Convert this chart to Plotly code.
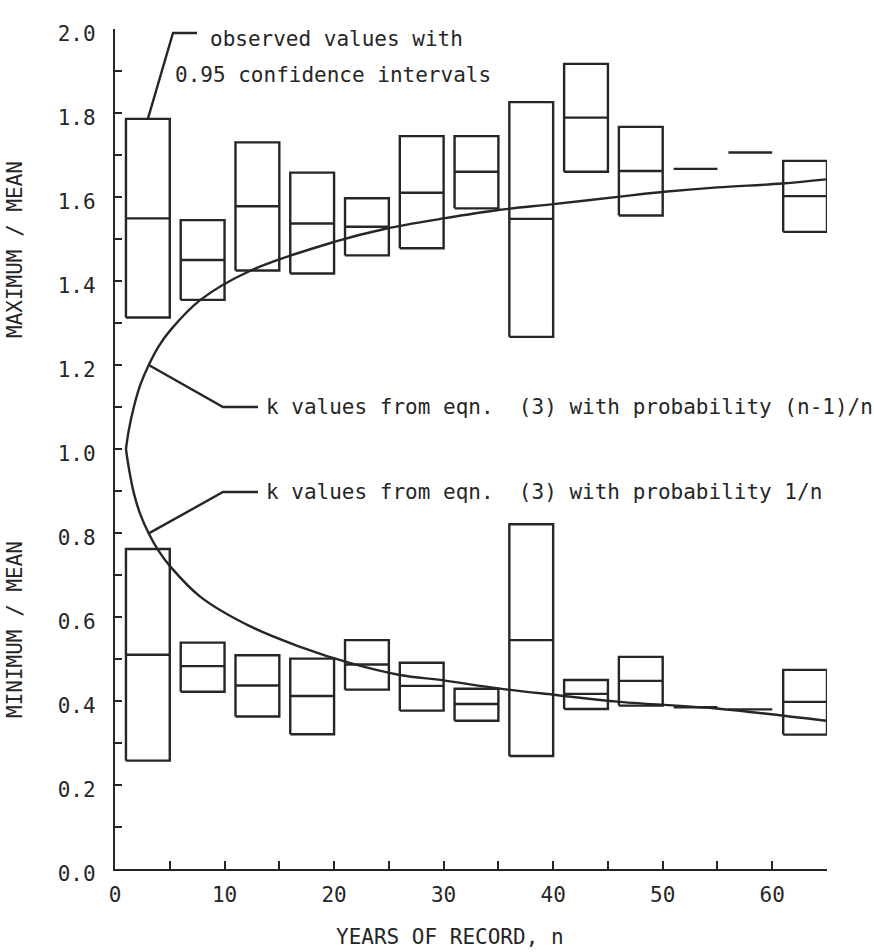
import plotly.graph_objects as go

# ---- data ----
years = [3, 8, 13, 18, 23, 28, 33, 38, 43, 48, 53, 58, 63]

max_hi  = [1.786, 1.545, 1.730, 1.658, 1.597, 1.745, 1.745, 1.826, 1.917, 1.767, None, None, 1.686]
max_med = [1.549, 1.450, 1.578, 1.537, 1.529, 1.610, 1.660, 1.548, 1.789, 1.662, 1.667, 1.706, 1.602]
max_lo  = [1.313, 1.355, 1.425, 1.418, 1.461, 1.478, 1.573, 1.267, 1.660, 1.556, None, None, 1.517]

min_hi  = [0.762, 0.539, 0.509, 0.501, 0.545, 0.491, 0.429, 0.821, 0.450, 0.505, None, None, 0.474]
min_med = [0.510, 0.483, 0.437, 0.412, 0.487, 0.436, 0.393, 0.545, 0.417, 0.448, 0.385, 0.380, 0.398]
min_lo  = [0.258, 0.422, 0.363, 0.321, 0.427, 0.377, 0.353, 0.269, 0.381, 0.389, None, None, 0.320]

# k curve, probability (n-1)/n
k_up_n = [1.0, 1.26, 1.72, 2.3, 3.08, 4.0, 5.06, 7.8, 12.4, 20.0, 24.8, 30.0, 35.0, 40.0, 46.1, 50.4, 55.0, 60.9, 64.9]
k_up_v = [1.0, 1.045, 1.10, 1.152, 1.20, 1.245, 1.283, 1.355, 1.425, 1.493, 1.525, 1.549, 1.569, 1.583, 1.601, 1.613, 1.623, 1.632, 1.642]
# k curve, probability 1/n
k_lo_n = [1.0, 1.26, 1.72, 2.33, 3.08, 4.0, 5.06, 7.8, 12.4, 16.9, 21.5, 26.0, 30.0, 35.0, 40.0, 46.1, 54.9, 64.9]
k_lo_v = [1.0, 0.955, 0.895, 0.843, 0.799, 0.757, 0.720, 0.648, 0.577, 0.529, 0.490, 0.462, 0.449, 0.430, 0.415, 0.398, 0.382, 0.353]

y_tick_vals = [round(i * 0.1, 1) for i in range(21)]
y_tick_text = ["%.1f" % v if i % 2 == 0 else "" for i, v in enumerate(y_tick_vals)]
x_tick_vals = list(range(0, 66, 5))
x_tick_text = [str(v) if v % 10 == 0 else "" for v in x_tick_vals]

# ---- style ----
INK = "#262626"
FONT = "DejaVu Sans Mono"
LW = 2.4
HALF = 2.0  # half width of an interval box in years
W, H = 874, 952
L, R, T, B = 115, 47, 29, 83


def box_path(xs, lo, med, hi):
    px, py = [], []
    for c, a, m, b in zip(xs, lo, med, hi):
        if a is not None and b is not None:
            px += [c - HALF, c + HALF, c + HALF, c - HALF, c - HALF, None]
            py += [a, a, b, b, a, None]
        px += [c - HALF, c + HALF, None]
        py += [m, m, None]
    return px, py


fig = go.Figure()
for lo, med, hi in [(max_lo, max_med, max_hi), (min_lo, min_med, min_hi)]:
    bx, by = box_path(years, lo, med, hi)
    fig.add_trace(go.Scatter(x=bx, y=by, mode="lines",
                             line=dict(color=INK, width=LW), hoverinfo="skip",
                             showlegend=False))

for xs, ys in [(k_up_n, k_up_v), (k_lo_n, k_lo_v)]:
    fig.add_trace(go.Scatter(x=xs, y=ys, mode="lines", line_shape="spline",
                             line=dict(color=INK, width=LW), showlegend=False))

plot_w = W - L - R
plot_h = H - T - B


def px2x(px):
    return (px - L) / plot_w * 65.0


def px2y(py):
    return (H - B - py) / plot_h * 2.0


# leader lines (anchored to data points, elbows in pixel terms)
leaders = [
    [(years[0], max_hi[0]), (px2x(173), px2y(33)), (px2x(197), px2y(33))],
    [(k_up_n[4], k_up_v[4]), (px2x(223), px2y(407)), (px2x(258), px2y(407))],
    [(k_lo_n[4], k_lo_v[4]), (px2x(223), px2y(492)), (px2x(258), px2y(492))],
]
for pts in leaders:
    fig.add_trace(go.Scatter(x=[p[0] for p in pts], y=[p[1] for p in pts],
                             mode="lines", line=dict(color=INK, width=LW),
                             hoverinfo="skip", showlegend=False))

texts = [
    ("observed values with", 208, 39),
    ("0.95 confidence intervals", 173, 75),
    ("k values from eqn.  (3) with probability (n-1)/n", 264, 407),
    ("k values from eqn.  (3) with probability 1/n", 264, 492),
]
for t, x, y in texts:
    fig.add_annotation(text=t, x=px2x(x), y=px2y(y), xref="x", yref="y",
                       xanchor="left", yanchor="middle", showarrow=False,
                       font=dict(family=FONT, size=21, color=INK))

# axis titles
fig.add_annotation(text="MAXIMUM / MEAN", x=(15 - L) / plot_w, y=px2y(250),
                   xref="paper", yref="y", textangle=-90, showarrow=False,
                   xanchor="center", yanchor="middle",
                   font=dict(family=FONT, size=21, color=INK))
fig.add_annotation(text="MINIMUM / MEAN", x=(15 - L) / plot_w, y=px2y(630),
                   xref="paper", yref="y", textangle=-90, showarrow=False,
                   xanchor="center", yanchor="middle",
                   font=dict(family=FONT, size=21, color=INK))
fig.add_annotation(text="YEARS OF RECORD, n", x=(450 - L) / plot_w,
                   y=(H - B - 937) / plot_h, xref="paper", yref="paper",
                   showarrow=False, xanchor="center", yanchor="middle",
                   font=dict(family=FONT, size=21, color=INK))

fig.update_xaxes(range=[0, 65], tickvals=x_tick_vals, ticktext=x_tick_text,
                 ticks="inside", ticklen=8, tickwidth=LW, tickcolor=INK,
                 showline=True, linewidth=LW, linecolor=INK, showgrid=False,
                 zeroline=False, ticklabelstandoff=6,
                 tickfont=dict(family=FONT, size=21, color=INK))
fig.update_yaxes(range=[0, 2], tickvals=y_tick_vals, ticktext=y_tick_text,
                 ticks="inside", ticklen=7, tickwidth=LW, tickcolor=INK,
                 showline=True, linewidth=LW, linecolor=INK, showgrid=False,
                 zeroline=False, ticklabelstandoff=13, ticklabelshift=5,
                 tickfont=dict(family=FONT, size=21, color=INK))

fig.update_layout(width=W, height=H, margin=dict(l=L, r=R, t=T, b=B),
                  paper_bgcolor="white", plot_bgcolor="white",
                  showlegend=False)

fig.write_html("out.html")
